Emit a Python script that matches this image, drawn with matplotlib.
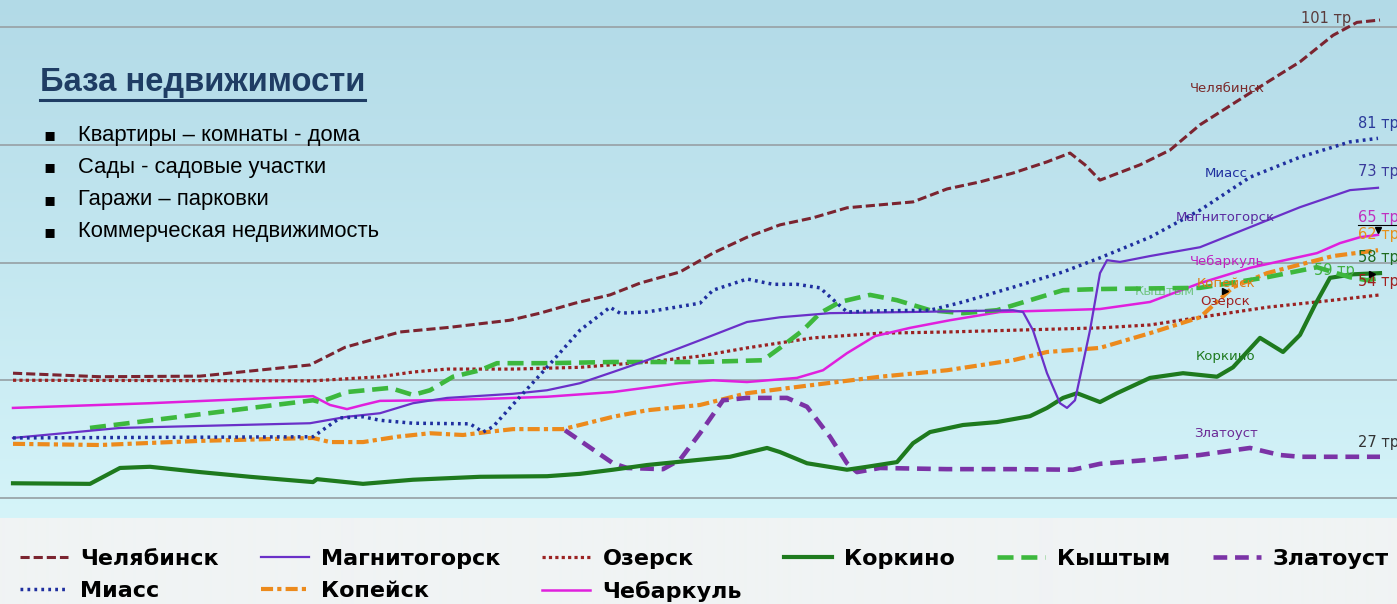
import numpy as np
import matplotlib
matplotlib.use("Agg")
import matplotlib.pyplot as plt
from matplotlib.lines import Line2D

# --- data: x is a position along the time axis, values in thousand roubles ---
chel_x = [0, 8.7, 18.7, 29.7, 33.2, 38.7, 43.7, 49.7, 52.7, 56.2, 59.7, 62.7, 66.7, 70.0, 73.4,
          76.7, 80.0, 83.4, 86.7, 90.0, 93.4, 96.7, 100.0, 103.4, 105.7, 107.2, 108.7, 112.7,
          115.7, 118.7, 123.7, 128.7, 132.0, 134.4, 136.7]
chel_v = [41.2, 40.6, 40.7, 42.6, 45.6, 48.2, 49.0, 50.2, 51.4, 53.1, 54.5, 56.5, 58.4, 61.6, 64.3,
          66.4, 67.6, 69.3, 69.8, 70.3, 72.5, 73.7, 75.2, 77.1, 78.6, 76.6, 74.0, 76.6,
          79.1, 83.4, 88.8, 94.1, 98.6, 100.8, 101.2]

miass_x = [0, 30.0, 32.7, 35.0, 36.7, 40.0, 45.7, 47.0, 48.0, 50.7, 53.4, 56.7, 59.7, 60.7, 63.4,
           68.7, 70.0, 73.4, 76.0, 78.4, 80.7, 82.4, 83.4, 86.7, 91.7, 95.0, 100.0, 105.0, 108.7,
           113.7, 118.7, 123.7, 128.7, 133.7, 136.5]
miass_v = [30.2, 30.4, 33.6, 33.8, 33.2, 32.7, 32.6, 31.2, 32.1, 37.2, 42.2, 48.5, 52.4, 51.4, 51.6,
           53.1, 55.3, 57.2, 56.3, 56.3, 55.7, 53.1, 51.6, 51.8, 51.9, 53.3, 55.8, 58.4, 60.8,
           64.3, 68.9, 74.5, 77.9, 80.5, 81.1]

magn_x = [0, 10.7, 29.7, 33.4, 36.7, 40.0, 43.4, 50.0, 53.4, 56.7, 60.0, 63.4, 66.7, 68.7, 73.4,
          76.7, 81.7, 90.0, 100.0, 101.0, 102.0, 103.4, 104.7, 105.4, 106.2, 107.0, 107.7, 108.7,
          109.4, 110.7, 113.7, 118.7, 123.7, 128.7, 133.7, 136.5]
magn_v = [30.2, 31.9, 32.7, 33.8, 34.4, 36.1, 37.0, 37.7, 38.3, 39.5, 41.4, 43.4, 45.5, 46.8, 49.9,
          50.7, 51.4, 51.6, 51.9, 51.6, 48.5, 41.2, 36.1, 35.3, 36.6, 42.9, 48.5, 58.2,
          60.4, 60.1, 61.1, 62.6, 66.0, 69.4, 72.3, 72.7]

ozersk_x = [0, 30.0, 36.7, 40.0, 43.4, 50.0, 56.7, 63.4, 68.7, 73.4, 80.0, 86.7, 93.4, 100.0,
            108.7, 113.7, 118.7, 125.4, 132.0, 136.7]
ozersk_v = [40.0, 39.9, 40.6, 41.4, 41.9, 41.9, 42.2, 43.1, 44.1, 45.5, 47.2, 48.0, 48.2, 48.5,
            48.9, 49.4, 50.7, 52.4, 53.6, 54.5]

korkino_x = [0, 7.7, 10.7, 13.7, 18.7, 23.7, 30.0, 30.4, 35.0, 40.0, 46.7, 53.4, 56.7, 60.0, 63.4,
             68.7, 71.7, 75.4, 76.7, 79.4, 83.4, 85.4, 88.4, 90.0, 91.7, 95.0, 98.4, 101.7, 103.4,
             105.0, 106.4, 108.7, 110.4, 113.7, 117.0, 120.4, 122.0, 124.7, 127.0, 128.7, 130.2,
             131.7, 134.0, 136.7]
korkino_v = [22.5, 22.4, 25.1, 25.3, 24.4, 23.6, 22.7, 23.2, 22.4, 23.1, 23.6, 23.7, 24.1, 24.8, 25.6,
             26.5, 27.0, 28.5, 27.8, 25.9, 24.8, 25.3, 26.1, 29.3, 31.2, 32.4, 32.9, 33.9, 35.3,
             37.0, 37.8, 36.3, 37.8, 40.4, 41.2, 40.6, 42.2, 47.2, 44.8, 47.7, 52.8,
             57.4, 58.0, 58.2]

kysh_x = [7.7, 30.0, 30.7, 33.4, 37.7, 40.0, 41.7, 44.0, 46.7, 48.4, 53.4, 60.0, 68.7, 75.0, 76.7,
          79.0, 80.7, 82.7, 85.7, 88.4, 91.7, 95.0, 98.4, 101.7, 105.0, 108.7, 118.7, 125.4,
          130.4, 133.7, 135.4, 136.7]
kysh_v = [31.9, 36.6, 36.3, 38.0, 38.7, 37.5, 38.3, 40.6, 41.7, 42.9, 42.9, 43.1, 43.1, 43.4, 45.5,
          48.5, 51.4, 53.3, 54.5, 53.6, 51.9, 51.4, 51.9, 53.6, 55.3, 55.5, 55.7, 57.5,
          59.2, 57.5, 57.0, 57.4]

zlat_x = [55.2, 60.0, 61.4, 65.0, 66.7, 68.7, 71.0, 73.4, 77.4, 79.4, 81.7, 83.4, 84.4, 86.7, 93.4,
          100.0, 106.0, 108.7, 113.7, 118.7, 123.7, 126.7, 128.7, 136.7]
zlat_v = [31.5, 25.9, 25.1, 24.9, 26.5, 31.0, 36.6, 37.0, 37.0, 35.5, 30.4, 25.9, 24.4, 25.1, 24.9,
          24.9, 24.8, 25.8, 26.5, 27.3, 28.5, 27.3, 27.0, 27.0]

kop_x = [0, 8.7, 18.7, 30.0, 31.7, 35.0, 38.4, 41.7, 45.0, 47.4, 50.0, 55.0, 56.7, 60.0, 63.4, 68.7,
         73.4, 80.0, 86.7, 93.4, 100.0, 103.4, 108.7, 113.7, 118.7, 122.0, 125.4, 132.0, 136.5]
kop_v = [29.2, 29.0, 29.7, 30.2, 29.5, 29.5, 30.4, 31.0, 30.7, 31.2, 31.7, 31.7, 32.4, 33.8, 34.9, 35.8,
         37.8, 39.2, 40.6, 41.7, 43.4, 44.8, 45.5, 48.0, 50.7, 55.8, 58.2, 61.1, 62.1]

cheb_x = [0, 13.7, 30.0, 31.7, 33.4, 35.0, 36.7, 41.7, 46.7, 53.4, 60.0, 66.7, 70.0, 73.4, 78.4,
          81.0, 83.4, 86.2, 89.7, 93.7, 98.7, 108.7, 113.7, 118.7, 123.7, 130.4, 132.7, 134.7, 136.5]
cheb_v = [35.3, 36.1, 37.3, 35.8, 35.1, 35.8, 36.5, 36.6, 36.8, 37.2, 38.0, 39.5, 40.0, 39.7, 40.4,
          41.7, 44.6, 47.5, 48.9, 50.2, 51.6, 52.1, 53.3, 56.5, 59.1, 61.6, 63.3, 64.3, 64.7]

gridlines = [20, 40, 60, 80, 100]

bullets = ["Квартиры – комнаты - дома", "Сады - садовые участки",
           "Гаражи – парковки", "Коммерческая недвижимость"]

# --- figure ---
W, H = 1397, 604
fig = plt.figure(figsize=(W / 100, H / 100), dpi=100)

# background gradient (sky blue plot area, light grey legend strip)
bg = fig.add_axes([0, 0, 1, 1], zorder=-5)
bg.set_axis_off()
top = np.array([178, 218, 231]) / 255
mid = np.array([213, 244, 249]) / 255
low = np.array([240, 243, 244]) / 255
img = np.zeros((H, 2, 3))
for r in range(H):
    if r < 518:
        f = r / 518
        img[r, :] = top * (1 - f) + mid * f
    else:
        img[r, :] = low
bg.imshow(img, aspect="auto", extent=[0, 1, 0, 1], interpolation="bilinear")
bg.set_xlim(0, 1)
bg.set_ylim(0, 1)

ax = fig.add_axes([0, 1 - 520 / H, 1, 520 / H])
ax.patch.set_alpha(0)
ax.set_xlim(-1.3, 138.4)
ax.set_ylim(16.26, 104.6)
ax.set_axis_off()
for g in gridlines:
    ax.axhline(g, color="#9aa5aa", lw=1.3, zorder=1)

ax.plot(ozersk_x, ozersk_v, color="#9b2222", lw=2.3, dashes=(1, 1), label="Озерск", zorder=3)
ax.plot(kop_x, kop_v, color="#ec8a1c", lw=3.0, dashes=(2.9, 1, 1, 1), label="Копейск", zorder=3)
ax.plot(zlat_x, zlat_v, color="#7b33a6", lw=3.3, dashes=(3, 1.7), label="Златоуст", zorder=3)
ax.plot(korkino_x, korkino_v, color="#1e7a1e", lw=3.0, label="Коркино", zorder=4)
ax.plot(cheb_x, cheb_v, color="#e020dd", lw=1.8, label="Чебаркуль", zorder=4)
ax.plot(kysh_x, kysh_v, color="#3db83d", lw=3.3, dashes=(3.5, 1.7), label="Кыштым", zorder=4)
ax.plot(magn_x, magn_v, color="#6a30c8", lw=1.6, label="Магнитогорск", zorder=5)
ax.plot(miass_x, miass_v, color="#1f2f9f", lw=2.5, dashes=(0.8, 1.2), label="Миасс", zorder=5)
ax.plot(chel_x, chel_v, color="#7b2430", lw=2.2, dashes=(3, 1.3), label="Челябинск", zorder=5)

# labels near the line ends
lab_font = dict(family="DejaVu Sans", fontsize=9.5, va="center", zorder=6)
ax.text(121.4, 89.6, "Челябинск", color="#7a2a2a", ha="center", **lab_font)
ax.text(121.3, 75.2, "Миасс", color="#1f2f9f", ha="center", **lab_font)
ax.text(121.2, 67.7, "Магнитогорск", color="#5a2aa0", ha="center", **lab_font)
ax.text(121.4, 60.1, "Чебаркуль", color="#c020c0", ha="center", **lab_font)
ax.text(121.3, 56.5, "Копейск", color="#e07a10", ha="center", **lab_font)
ax.text(115.2, 55.0, "Кыштым", color="#40b040", ha="center", alpha=0.6, **lab_font)
ax.text(121.2, 53.3, "Озерск", color="#a02020", ha="center", **lab_font)
ax.text(121.3, 44.1, "Коркино", color="#1e7a1e", ha="center", **lab_font)
ax.text(121.3, 30.9, "Златоуст", color="#6b2a96", ha="center", **lab_font)

end_font = dict(family="DejaVu Sans", fontsize=10.5, va="center", zorder=6)
ax.text(131.3, 101.4, "101 тр", color="#5a3a3a", ha="center", **end_font)
ax.text(138.6, 83.7, "81 тр", color="#2a3a9a", ha="right", **end_font)
ax.text(138.6, 75.4, "73 тр", color="#3a3a9a", ha="right", **end_font)
ax.text(138.6, 67.7, "65 тр", color="#c030c0", ha="right", **end_font)
ax.text(138.6, 64.7, "62 тр", color="#e8901a", ha="right", **end_font)
ax.text(138.6, 60.8, "58 тр", color="#1e6a1e", ha="right", **end_font)
ax.text(132.1, 58.7, "59 тр", color="#40b040", ha="center", **end_font)
ax.text(138.6, 56.7, "54 тр", color="#a02020", ha="right", **end_font)
ax.text(138.6, 29.5, "27 тр", color="#333333", ha="right", **end_font)

# small leader marks left from the original chart
ax.plot([134.5, 138.4], [66.4, 66.4], color="black", lw=0.8, zorder=6)
ax.plot([136.5], [65.6], marker="v", color="black", ms=5, zorder=6)
ax.plot([121.2], [55.1], marker=">", color="black", ms=5, zorder=6)
ax.plot([135.9], [58.0], marker=">", color="black", ms=5, zorder=6)

# title and bullet list
title = fig.text(40 / W, 1 - 82 / H, "База недвижимости", family="Liberation Sans",
                 fontsize=23.6, fontweight="bold", color="#1f3d64", va="center")
fig.canvas.draw()
bb = title.get_window_extent()
fig.add_artist(Line2D([bb.x0 / W, bb.x1 / W], [1 - 100 / H, 1 - 100 / H],
                      color="#1f3d64", lw=2.2, transform=fig.transFigure))
for i, item in enumerate(bullets):
    yy = 1 - (135 + 32.3 * i) / H
    fig.text(43 / W, yy, "▪", family="DejaVu Sans", fontsize=13, va="center", color="black")
    fig.text(78 / W, yy, item, family="Liberation Sans", fontsize=15.8, va="center", color="black")

# legend, row by row like the original
handles, labels = ax.get_legend_handles_labels()
order = ["Челябинск", "Миасс", "Магнитогорск", "Копейск", "Озерск", "Чебаркуль",
         "Коркино", "Кыштым", "Златоуст"]
hmap = dict(zip(labels, handles))
fig.legend([hmap[k] for k in order], order, ncol=6, loc="upper left",
           bbox_to_anchor=(20 / W, 1 - 549 / H), frameon=False, borderpad=0,
           borderaxespad=0, handlelength=2.15, handletextpad=0.55, columnspacing=1.9,
           labelspacing=0.53, prop=dict(family="DejaVu Sans", weight="bold", size=16))

fig.savefig("out.png", dpi=100)
